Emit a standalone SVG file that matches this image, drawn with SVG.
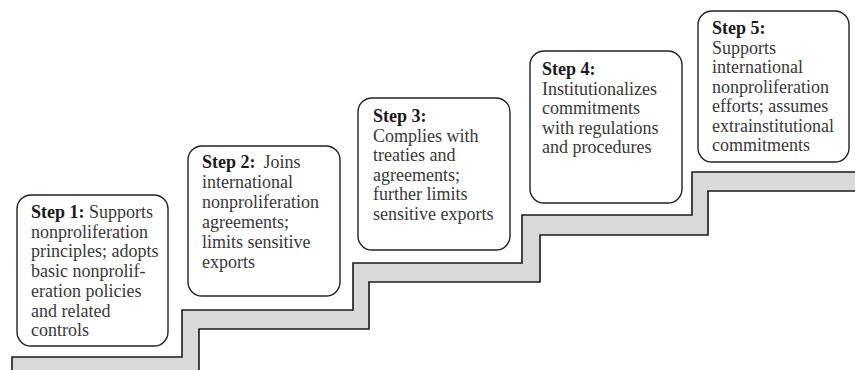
<svg xmlns="http://www.w3.org/2000/svg" width="855" height="370" viewBox="0 0 855 370">
<style>
.box{fill:#ffffff;stroke:#222222;stroke-width:1.4}
.stair{fill:#d9d9d9;stroke:#1a1a1a;stroke-width:1.6;stroke-linejoin:miter}
text{font-family:"Liberation Serif","Times New Roman",serif;font-size:18px;fill:#383838}
.b{font-weight:bold;fill:#1a1a1a}
</style>
<rect width="855" height="370" fill="#ffffff"/>
<g id="stairs">
<path class="stair" d="M12,372 L12,357 L182,357 L182,310 L353,310 L353,263 L522,263 L522,215 L692,215 L692,172 L857,172 L857,191 L708,191 L708,235 L540,235 L540,282 L369,282 L369,329 L199,329 L199,372 Z"/>
</g>
<g id="step1">
<rect class="box" x="17" y="195" width="151" height="151" rx="14"/>
<text x="31" y="218"><tspan class="b">Step 1:</tspan> Supports</text>
<text x="31" y="237.7">nonproliferation</text>
<text x="31" y="257.4">principles; adopts</text>
<text x="31" y="277.1">basic nonprolif-</text>
<text x="31" y="296.8">eration policies</text>
<text x="31" y="316.5">and related</text>
<text x="31" y="336.2">controls</text>
</g>
<g id="step2">
<rect class="box" x="188" y="146" width="152" height="150" rx="14"/>
<text x="202" y="168"><tspan class="b">Step 2:</tspan><tspan dx="8">Joins</tspan></text>
<text x="202" y="188">international</text>
<text x="202" y="208">nonproliferation</text>
<text x="202" y="228">agreements;</text>
<text x="202" y="248">limits sensitive</text>
<text x="202" y="268">exports</text>
</g>
<g id="step3">
<rect class="box" x="358" y="98" width="152" height="152" rx="14"/>
<text x="373" y="122" class="b">Step 3:</text>
<text x="373" y="141.5">Complies with</text>
<text x="373" y="161">treaties and</text>
<text x="373" y="180.5">agreements;</text>
<text x="373" y="200">further limits</text>
<text x="373" y="219.5">sensitive exports</text>
</g>
<g id="step4">
<rect class="box" x="530" y="51" width="152" height="152" rx="14"/>
<text x="542" y="75" class="b">Step 4:</text>
<text x="542" y="94.5">Institutionalizes</text>
<text x="542" y="114">commitments</text>
<text x="542" y="133.5">with regulations</text>
<text x="542" y="153">and procedures</text>
</g>
<g id="step5">
<rect class="box" x="698" y="11" width="151" height="151" rx="14"/>
<text x="712" y="34" class="b">Step 5:</text>
<text x="712" y="53.5">Supports</text>
<text x="712" y="73">international</text>
<text x="712" y="92.5">nonproliferation</text>
<text x="712" y="112">efforts; assumes</text>
<text x="712" y="131.5">extrainstitutional</text>
<text x="712" y="151">commitments</text>
</g>
</svg>
